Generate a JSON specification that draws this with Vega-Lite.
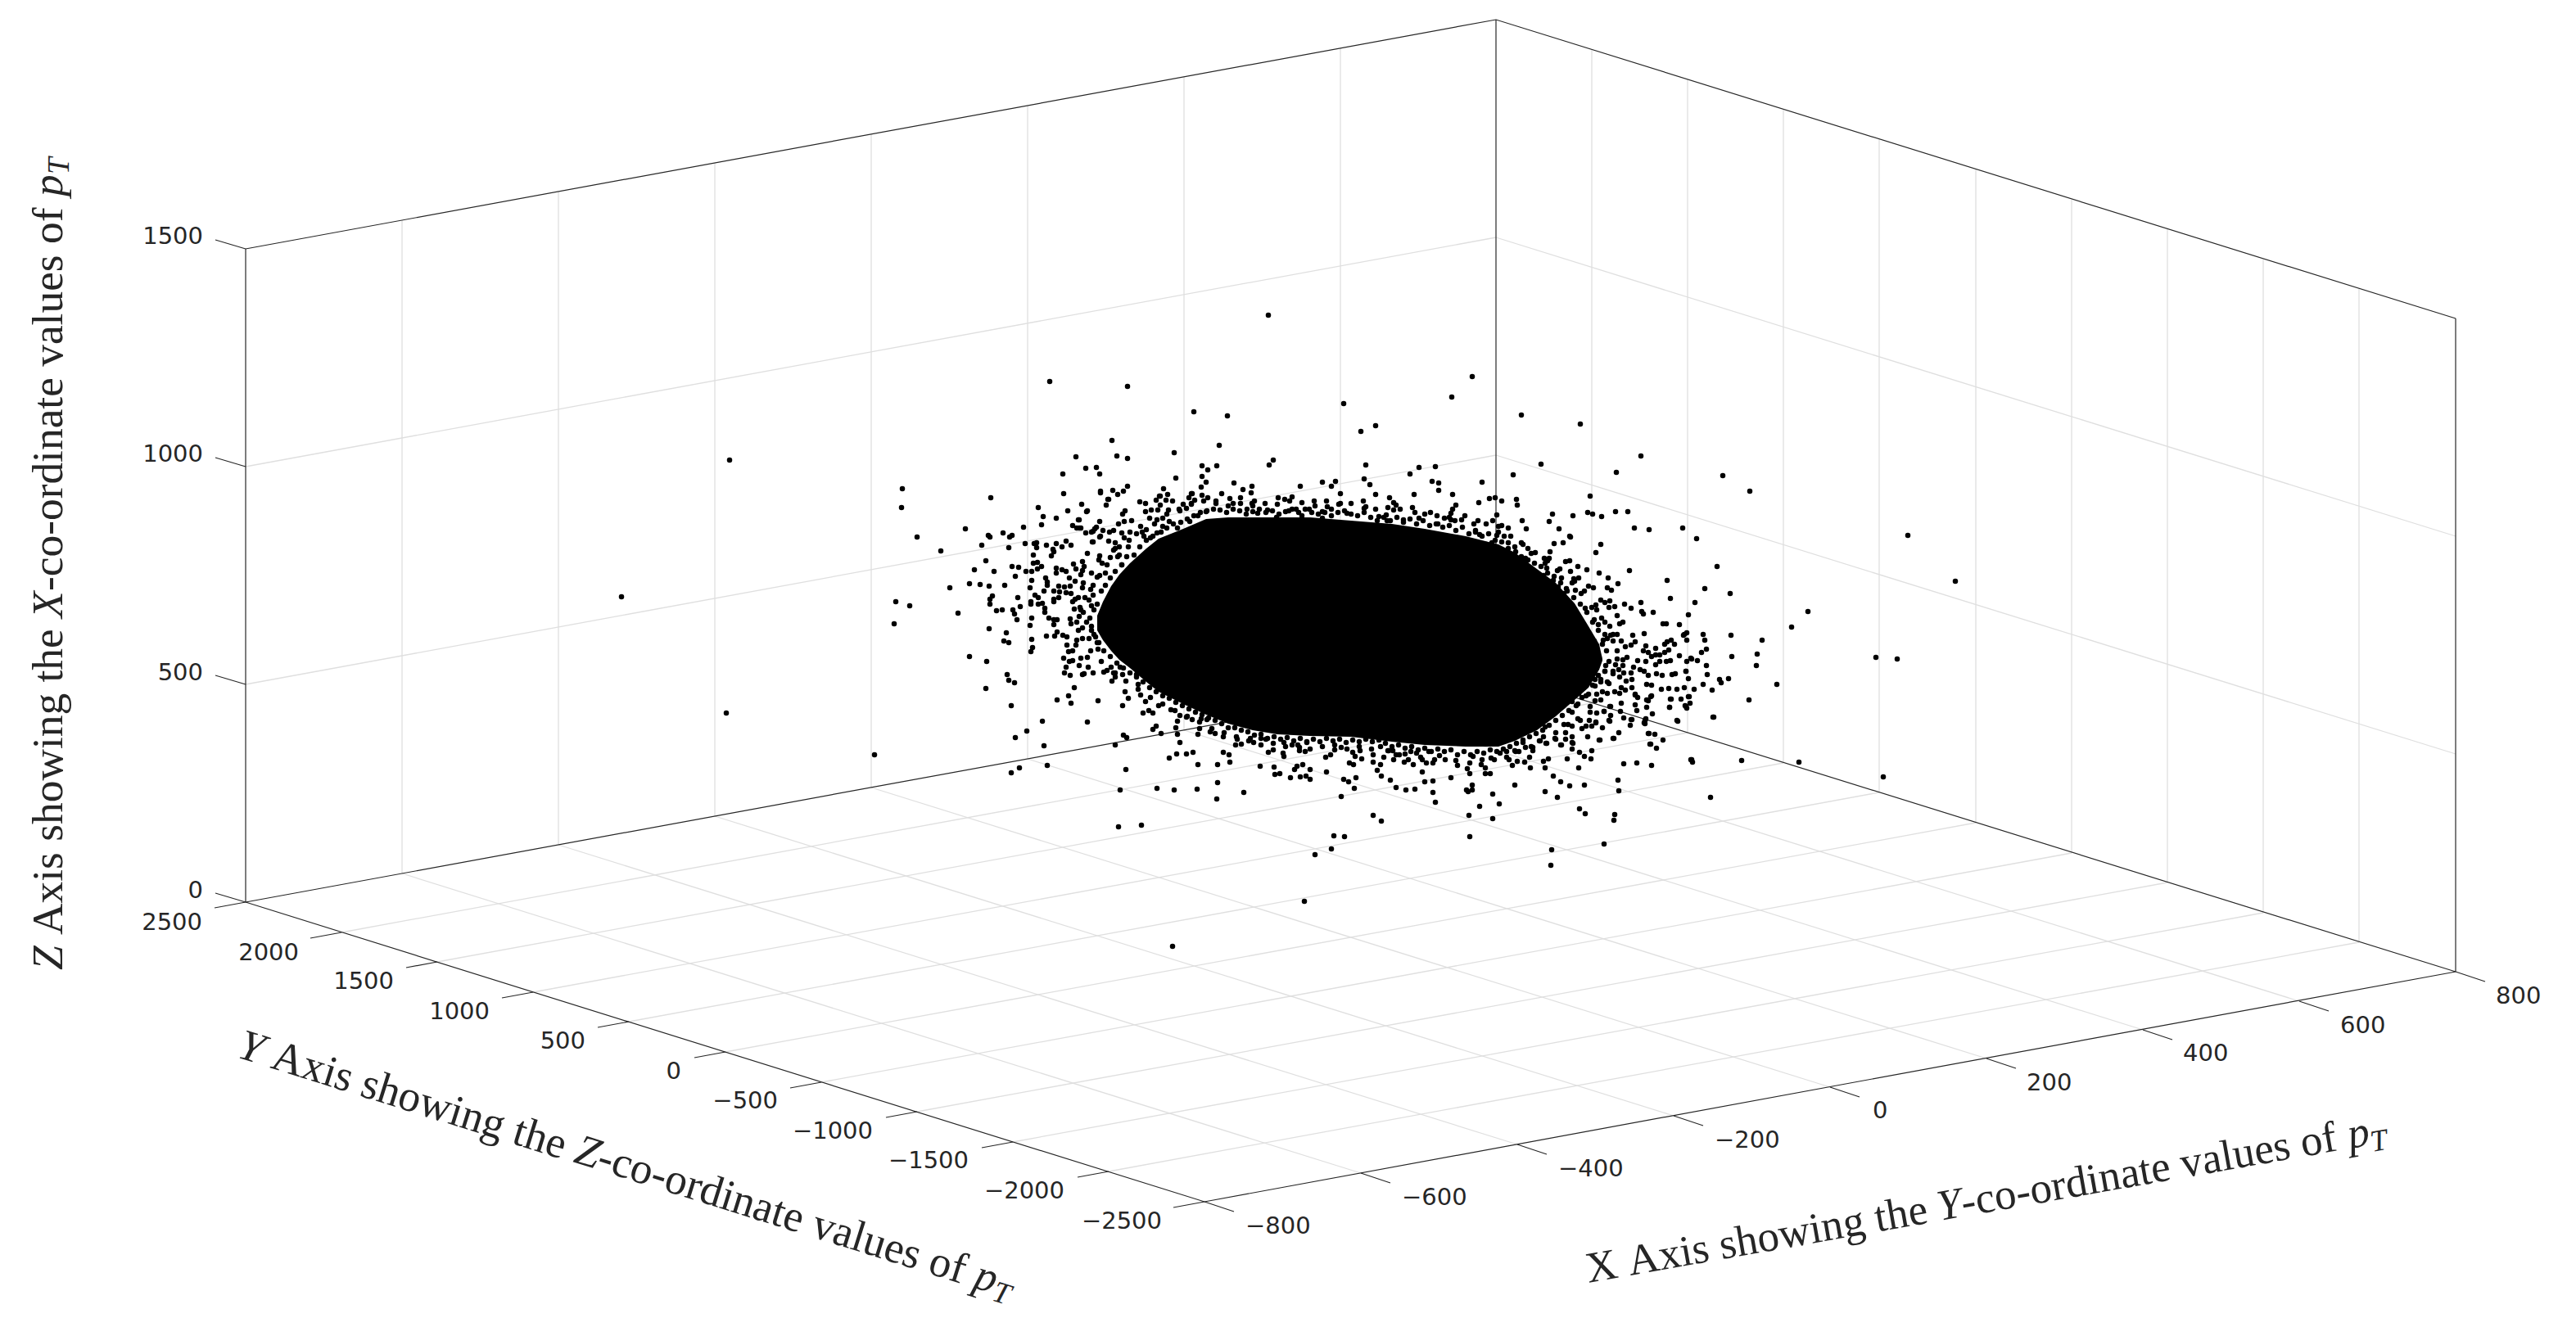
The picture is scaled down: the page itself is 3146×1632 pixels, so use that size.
{
"$schema":"https://vega.github.io/schema/vega-lite/v6.json",
"width":3146,"height":1632,"padding":0,
"autosize":{"type":"fit","contains":"padding"},
"background":"white",
"config":{"view":{"stroke":null}},
"datasets":{
"grid":[
{"l":"a1","x":491,"y":1067},{"l":"a1","x":491,"y":269},{"l":"a2","x":682,"y":1032},{"l":"a2","x":682,"y":234},{"l":"a3","x":873,"y":997},{"l":"a3","x":873,"y":199},{"l":"a4","x":1064,"y":962},{"l":"a4","x":1064,"y":164},{"l":"a5","x":1255,"y":927},{"l":"a5","x":1255,"y":129},{"l":"a6","x":1446,"y":892},{"l":"a6","x":1446,"y":94},{"l":"a7","x":1637,"y":857},{"l":"a7","x":1637,"y":59},
{"l":"b1","x":300,"y":836},{"l":"b1","x":1827,"y":556},{"l":"b2","x":300,"y":570},{"l":"b2","x":1827,"y":290},
{"l":"c1","x":1944,"y":859},{"l":"c1","x":1944,"y":61},{"l":"c2","x":2061,"y":895},{"l":"c2","x":2061,"y":97},{"l":"c3","x":2178,"y":932},{"l":"c3","x":2178,"y":134},{"l":"c4","x":2295,"y":968},{"l":"c4","x":2295,"y":170},{"l":"c5","x":2413,"y":1005},{"l":"c5","x":2413,"y":207},{"l":"c6","x":2530,"y":1042},{"l":"c6","x":2530,"y":244},{"l":"c7","x":2647,"y":1078},{"l":"c7","x":2647,"y":280},{"l":"c8","x":2764,"y":1115},{"l":"c8","x":2764,"y":317},{"l":"c9","x":2881,"y":1151},{"l":"c9","x":2881,"y":353},
{"l":"d1","x":1827,"y":556},{"l":"d1","x":2999,"y":921},{"l":"d2","x":1827,"y":290},{"l":"d2","x":2999,"y":655},
{"l":"e1","x":491,"y":1067},{"l":"e1","x":1662,"y":1433},{"l":"e2","x":682,"y":1032},{"l":"e2","x":1853,"y":1398},{"l":"e3","x":873,"y":997},{"l":"e3","x":2044,"y":1363},{"l":"e4","x":1064,"y":962},{"l":"e4","x":2235,"y":1328},{"l":"e5","x":1255,"y":927},{"l":"e5","x":2426,"y":1293},{"l":"e6","x":1446,"y":892},{"l":"e6","x":2617,"y":1258},{"l":"e7","x":1637,"y":857},{"l":"e7","x":2808,"y":1223},
{"l":"f1","x":417,"y":1139},{"l":"f1","x":1944,"y":859},{"l":"f2","x":534,"y":1175},{"l":"f2","x":2061,"y":895},{"l":"f3","x":651,"y":1212},{"l":"f3","x":2178,"y":932},{"l":"f4","x":768,"y":1248},{"l":"f4","x":2295,"y":968},{"l":"f5","x":886,"y":1285},{"l":"f5","x":2413,"y":1005},{"l":"f6","x":1003,"y":1322},{"l":"f6","x":2530,"y":1042},{"l":"f7","x":1120,"y":1358},{"l":"f7","x":2647,"y":1078},{"l":"f8","x":1237,"y":1395},{"l":"f8","x":2764,"y":1115},{"l":"f9","x":1354,"y":1431},{"l":"f9","x":2881,"y":1151}
],
"box":[
{"l":"base1","x":300,"y":1102},{"l":"base1","x":1471,"y":1468},{"l":"base1","x":2999,"y":1187},
{"l":"base2","x":300,"y":1102},{"l":"base2","x":1827,"y":822},{"l":"base2","x":2999,"y":1187},
{"l":"v1","x":300,"y":1102},{"l":"v1","x":300,"y":304},{"l":"v2","x":1827,"y":822},{"l":"v2","x":1827,"y":24},{"l":"v3","x":2999,"y":1187},{"l":"v3","x":2999,"y":389},
{"l":"top","x":300,"y":304},{"l":"top","x":1827,"y":24},{"l":"top","x":2999,"y":389},
{"l":"tz0","x":300,"y":1102},{"l":"tz0","x":263,"y":1091},{"l":"tz1","x":300,"y":836},{"l":"tz1","x":263,"y":825},{"l":"tz2","x":300,"y":570},{"l":"tz2","x":263,"y":559},{"l":"tz3","x":300,"y":304},{"l":"tz3","x":263,"y":293},
{"l":"ty0","x":300,"y":1102},{"l":"ty0","x":262,"y":1109},{"l":"ty1","x":417,"y":1139},{"l":"ty1","x":379,"y":1146},{"l":"ty2","x":534,"y":1175},{"l":"ty2","x":496,"y":1182},{"l":"ty3","x":651,"y":1212},{"l":"ty3","x":613,"y":1219},{"l":"ty4","x":768,"y":1248},{"l":"ty4","x":730,"y":1255},{"l":"ty5","x":886,"y":1285},{"l":"ty5","x":848,"y":1292},{"l":"ty6","x":1003,"y":1322},{"l":"ty6","x":965,"y":1329},{"l":"ty7","x":1120,"y":1358},{"l":"ty7","x":1082,"y":1365},{"l":"ty8","x":1237,"y":1395},{"l":"ty8","x":1199,"y":1402},{"l":"ty9","x":1354,"y":1431},{"l":"ty9","x":1316,"y":1438},{"l":"ty10","x":1471,"y":1468},{"l":"ty10","x":1433,"y":1475},
{"l":"tx0","x":1471,"y":1468},{"l":"tx0","x":1507,"y":1480},{"l":"tx1","x":1662,"y":1433},{"l":"tx1","x":1698,"y":1445},{"l":"tx2","x":1853,"y":1398},{"l":"tx2","x":1889,"y":1410},{"l":"tx3","x":2044,"y":1363},{"l":"tx3","x":2080,"y":1375},{"l":"tx4","x":2235,"y":1328},{"l":"tx4","x":2271,"y":1340},{"l":"tx5","x":2426,"y":1293},{"l":"tx5","x":2462,"y":1305},{"l":"tx6","x":2617,"y":1258},{"l":"tx6","x":2653,"y":1270},{"l":"tx7","x":2808,"y":1223},{"l":"tx7","x":2844,"y":1235},{"l":"tx8","x":2999,"y":1187},{"l":"tx8","x":3035,"y":1199}
],
"core":[
{"x":1340,"top":752,"bottom":770},{"x":1347,"top":735,"bottom":782},{"x":1357,"top":716,"bottom":795},{"x":1367,"top":702,"bottom":806},{"x":1380,"top":688,"bottom":816},{"x":1400,"top":670,"bottom":833},{"x":1415,"top":658,"bottom":845},{"x":1445,"top":646,"bottom":860},{"x":1473,"top":634,"bottom":873},{"x":1500,"top":632,"bottom":884},{"x":1530,"top":632,"bottom":892},{"x":1560,"top":632,"bottom":897},{"x":1600,"top":632,"bottom":899},{"x":1650,"top":636,"bottom":900},{"x":1700,"top":640,"bottom":906},{"x":1740,"top":646,"bottom":910},{"x":1790,"top":655,"bottom":912},{"x":1830,"top":665,"bottom":912},{"x":1850,"top":675,"bottom":905},{"x":1877,"top":695,"bottom":892},{"x":1900,"top":712,"bottom":875},{"x":1923,"top":737,"bottom":855},{"x":1940,"top":765,"bottom":840},{"x":1953,"top":787,"bottom":818},{"x":1957,"top":805,"bottom":807}
],
"scatter":[
{"x":1336,"y":745},{"x":1340,"y":738},{"x":1345,"y":722},{"x":1350,"y":715},{"x":1356,"y":706},{"x":1362,"y":698},{"x":1370,"y":690},{"x":1376,"y":680},{"x":1385,"y":678},{"x":1392,"y":668},{"x":1400,"y":660},{"x":1408,"y":655},{"x":1418,"y":650},{"x":1425,"y":645},{"x":1433,"y":640},{"x":1442,"y":638},{"x":1450,"y":634},{"x":1458,"y":630},{"x":1466,"y":626},{"x":1474,"y":624},{"x":1482,"y":622},{"x":1490,"y":623},{"x":1498,"y":626},{"x":1506,"y":622},{"x":1514,"y":624},{"x":1522,"y":628},{"x":1530,"y":625},{"x":1538,"y":622},{"x":1546,"y":626},{"x":1554,"y":624},{"x":1562,"y":628},{"x":1570,"y":625},{"x":1578,"y":622},{"x":1586,"y":626},{"x":1594,"y":622},{"x":1602,"y":626},{"x":1610,"y":628},{"x":1618,"y":626},{"x":1626,"y":622},{"x":1634,"y":626},{"x":1642,"y":624},{"x":1650,"y":628},{"x":1658,"y":630},{"x":1666,"y":626},{"x":1674,"y":632},{"x":1682,"y":636},{"x":1690,"y":632},{"x":1698,"y":636},{"x":1706,"y":632},{"x":1714,"y":638},{"x":1722,"y":634},{"x":1730,"y":640},{"x":1738,"y":636},{"x":1746,"y":642},{"x":1754,"y":640},{"x":1762,"y":644},{"x":1770,"y":642},{"x":1778,"y":648},{"x":1786,"y":644},{"x":1794,"y":652},{"x":1802,"y":648},{"x":1810,"y":655},{"x":1818,"y":652},{"x":1826,"y":660},{"x":1834,"y":662},{"x":1842,"y":670},{"x":1850,"y":668},{"x":1858,"y":680},{"x":1866,"y":684},{"x":1874,"y":688},{"x":1882,"y":692},{"x":1890,"y":700},{"x":1898,"y":704},{"x":1906,"y":712},{"x":1914,"y":722},{"x":1922,"y":730},{"x":1930,"y":738},{"x":1938,"y":748},{"x":1945,"y":760},{"x":1952,"y":770},{"x":1958,"y":782},{"x":1962,"y":795},{"x":1965,"y":808},{"x":1960,"y":820},{"x":1955,"y":830},{"x":1948,"y":838},{"x":1940,"y":848},{"x":1932,"y":852},{"x":1925,"y":862},{"x":1916,"y":868},{"x":1908,"y":874},{"x":1900,"y":880},{"x":1892,"y":886},{"x":1884,"y":892},{"x":1876,"y":896},{"x":1868,"y":900},{"x":1860,"y":904},{"x":1852,"y":908},{"x":1844,"y":912},{"x":1836,"y":915},{"x":1828,"y":918},{"x":1820,"y":916},{"x":1812,"y":920},{"x":1804,"y":918},{"x":1796,"y":922},{"x":1788,"y":918},{"x":1780,"y":922},{"x":1772,"y":916},{"x":1764,"y":918},{"x":1756,"y":915},{"x":1748,"y":918},{"x":1740,"y":914},{"x":1732,"y":916},{"x":1724,"y":912},{"x":1716,"y":914},{"x":1708,"y":910},{"x":1700,"y":912},{"x":1692,"y":908},{"x":1684,"y":904},{"x":1676,"y":906},{"x":1668,"y":903},{"x":1660,"y":906},{"x":1652,"y":904},{"x":1644,"y":907},{"x":1636,"y":903},{"x":1628,"y":905},{"x":1620,"y":902},{"x":1612,"y":906},{"x":1604,"y":903},{"x":1596,"y":906},{"x":1588,"y":902},{"x":1580,"y":905},{"x":1572,"y":901},{"x":1564,"y":903},{"x":1556,"y":900},{"x":1548,"y":902},{"x":1540,"y":897},{"x":1532,"y":898},{"x":1524,"y":894},{"x":1516,"y":892},{"x":1508,"y":889},{"x":1500,"y":889},{"x":1492,"y":884},{"x":1484,"y":880},{"x":1476,"y":877},{"x":1468,"y":873},{"x":1460,"y":870},{"x":1452,"y":866},{"x":1444,"y":862},{"x":1436,"y":858},{"x":1428,"y":853},{"x":1420,"y":850},{"x":1412,"y":845},{"x":1404,"y":840},{"x":1396,"y":833},{"x":1388,"y":827},{"x":1380,"y":822},{"x":1372,"y":816},{"x":1364,"y":810},{"x":1356,"y":802},{"x":1348,"y":795},{"x":1342,"y":785},{"x":1336,"y":775},{"x":1333,"y":765},{"x":1331,"y":755},
{"x":1340,"y":705},{"x":1352,"y":690},{"x":1365,"y":680},{"x":1378,"y":668},{"x":1395,"y":650},{"x":1410,"y":640},{"x":1425,"y":628},{"x":1440,"y":622},{"x":1455,"y":615},{"x":1470,"y":612},{"x":1485,"y":615},{"x":1500,"y":618},{"x":1515,"y":608},{"x":1530,"y":618},{"x":1545,"y":615},{"x":1560,"y":616},{"x":1575,"y":612},{"x":1590,"y":614},{"x":1605,"y":612},{"x":1620,"y":612},{"x":1635,"y":616},{"x":1650,"y":615},{"x":1665,"y":612},{"x":1680,"y":622},{"x":1695,"y":620},{"x":1710,"y":622},{"x":1725,"y":620},{"x":1740,"y":628},{"x":1755,"y":630},{"x":1770,"y":632},{"x":1785,"y":635},{"x":1800,"y":640},{"x":1815,"y":640},{"x":1830,"y":650},{"x":1845,"y":655},{"x":1860,"y":665},{"x":1875,"y":675},{"x":1890,"y":685},{"x":1905,"y":695},{"x":1920,"y":712},{"x":1935,"y":722},{"x":1950,"y":745},{"x":1960,"y":760},{"x":1970,"y":775},{"x":1975,"y":795},{"x":1970,"y":820},{"x":1965,"y":835},{"x":1955,"y":855},{"x":1942,"y":870},{"x":1930,"y":880},{"x":1915,"y":885},{"x":1900,"y":895},{"x":1885,"y":900},{"x":1870,"y":912},{"x":1855,"y":918},{"x":1840,"y":925},{"x":1825,"y":928},{"x":1810,"y":928},{"x":1795,"y":932},{"x":1780,"y":935},{"x":1765,"y":928},{"x":1750,"y":932},{"x":1735,"y":925},{"x":1720,"y":928},{"x":1705,"y":922},{"x":1690,"y":925},{"x":1675,"y":915},{"x":1660,"y":912},{"x":1645,"y":915},{"x":1630,"y":910},{"x":1615,"y":912},{"x":1600,"y":915},{"x":1585,"y":910},{"x":1570,"y":912},{"x":1555,"y":908},{"x":1540,"y":910},{"x":1525,"y":905},{"x":1510,"y":900},{"x":1495,"y":895},{"x":1480,"y":890},{"x":1465,"y":882},{"x":1450,"y":875},{"x":1435,"y":868},{"x":1420,"y":860},{"x":1405,"y":852},{"x":1390,"y":842},{"x":1375,"y":832},{"x":1360,"y":822},{"x":1345,"y":808},{"x":1332,"y":795},{"x":1322,"y":780},{"x":1320,"y":745},{"x":1325,"y":730},{"x":1335,"y":715},
{"x":759,"y":729},{"x":891,"y":562},{"x":887,"y":871},{"x":1102,"y":597},{"x":1101,"y":620},{"x":1120,"y":656},{"x":1179,"y":646},{"x":1149,"y":673},{"x":1199,"y":666},{"x":1190,"y":696},{"x":1184,"y":713},{"x":1197,"y":714},{"x":1160,"y":718},{"x":1094,"y":735},{"x":1111,"y":740},{"x":1170,"y":749},{"x":1092,"y":762},{"x":1184,"y":802},{"x":1068,"y":922},
{"x":1549,"y":385},{"x":1282,"y":466},{"x":1377,"y":472},{"x":1458,"y":503},{"x":1499,"y":508},{"x":1358,"y":538},{"x":1489,"y":544},{"x":1434,"y":553},{"x":1314,"y":558},{"x":1364,"y":557},{"x":1377,"y":560},{"x":1555,"y":562},{"x":1550,"y":568},{"x":1468,"y":569},{"x":1475,"y":574},{"x":1486,"y":569},{"x":1326,"y":572},{"x":1339,"y":571},{"x":1343,"y":579},{"x":1298,"y":579},{"x":1468,"y":582},{"x":1436,"y":584},{"x":1473,"y":589},{"x":1507,"y":590},{"x":1529,"y":594},{"x":1518,"y":598},{"x":1588,"y":594},{"x":1377,"y":594},{"x":1344,"y":600},{"x":1359,"y":599},{"x":1365,"y":604},{"x":1372,"y":600},{"x":1299,"y":603},{"x":1467,"y":595},{"x":1468,"y":605},{"x":1421,"y":597},{"x":1426,"y":604},{"x":1416,"y":606},{"x":1455,"y":603},{"x":1452,"y":608},{"x":1475,"y":608},{"x":1492,"y":603},{"x":1528,"y":602},{"x":1561,"y":608},{"x":1569,"y":610},{"x":1578,"y":607},{"x":1502,"y":609},{"x":1485,"y":612},{"x":1532,"y":612},{"x":1529,"y":615},{"x":1354,"y":610},{"x":1351,"y":617},{"x":1321,"y":616},{"x":1304,"y":624},{"x":1327,"y":625},{"x":1268,"y":620},{"x":1210,"y":608},{"x":1274,"y":631},{"x":1290,"y":633},{"x":1272,"y":641},{"x":1318,"y":635},{"x":1343,"y":637},{"x":1310,"y":642},{"x":1318,"y":645},{"x":1339,"y":644},{"x":1335,"y":649},{"x":1326,"y":651},{"x":1250,"y":644},{"x":1225,"y":651},{"x":1236,"y":654},{"x":1233,"y":656},{"x":1207,"y":654},{"x":1209,"y":656},{"x":1232,"y":669},{"x":1252,"y":664},{"x":1263,"y":664},{"x":1266,"y":669},{"x":1266,"y":663},{"x":1278,"y":666},{"x":1290,"y":664},{"x":1302,"y":661},{"x":1297,"y":668},{"x":1308,"y":666},{"x":1286,"y":671},{"x":1287,"y":674},{"x":1284,"y":679},{"x":1262,"y":678},{"x":1204,"y":685},{"x":1214,"y":698},{"x":1236,"y":692},{"x":1244,"y":693},{"x":1240,"y":704},{"x":1253,"y":698},{"x":1260,"y":698},{"x":1262,"y":688},{"x":1267,"y":687},{"x":1272,"y":692},{"x":1267,"y":695},{"x":1208,"y":716},{"x":1227,"y":715},{"x":1260,"y":709},{"x":1258,"y":718},{"x":1277,"y":706},{"x":1279,"y":711},{"x":1275,"y":722},{"x":1279,"y":715},{"x":1287,"y":722},{"x":1293,"y":716},{"x":1294,"y":723},{"x":1302,"y":724},{"x":1307,"y":716},{"x":1300,"y":717},{"x":1290,"y":694},{"x":1290,"y":700},{"x":1297,"y":696},{"x":1302,"y":698},{"x":1306,"y":706},{"x":1313,"y":710},{"x":1311,"y":689},{"x":1314,"y":695},{"x":1322,"y":686},{"x":1324,"y":692},{"x":1320,"y":702},{"x":1322,"y":697},{"x":1328,"y":676},{"x":1343,"y":679},{"x":1342,"y":684},{"x":1346,"y":688},{"x":1356,"y":681},{"x":1335,"y":662},{"x":1344,"y":655},{"x":1354,"y":661},{"x":1362,"y":663},{"x":1360,"y":672},{"x":1367,"y":668},{"x":1362,"y":670},{"x":1367,"y":678},
{"x":1328,"y":624},{"x":1344,"y":602},{"x":1353,"y":610},{"x":1317,"y":635},{"x":1315,"y":645},{"x":1320,"y":645},{"x":1333,"y":650},{"x":1337,"y":646},{"x":1366,"y":640},{"x":1373,"y":637},{"x":1382,"y":636},{"x":1374,"y":624},{"x":1371,"y":628},{"x":1392,"y":613},{"x":1399,"y":615},{"x":1399,"y":625},{"x":1406,"y":623},{"x":1414,"y":623},{"x":1417,"y":617},{"x":1412,"y":611},{"x":1417,"y":606},{"x":1424,"y":611},{"x":1432,"y":612},{"x":1427,"y":623},{"x":1441,"y":624},{"x":1449,"y":621},{"x":1445,"y":616},{"x":1455,"y":616},{"x":1459,"y":611},{"x":1456,"y":603},{"x":1404,"y":633},{"x":1347,"y":648},{"x":1355,"y":650},{"x":1360,"y":648},{"x":1343,"y":656},{"x":1334,"y":662},{"x":1373,"y":657},{"x":1370,"y":651},{"x":1380,"y":650},{"x":1379,"y":660},{"x":1393,"y":643},{"x":1388,"y":652},{"x":1400,"y":647},{"x":1397,"y":655},{"x":1405,"y":657},{"x":1413,"y":651},{"x":1413,"y":635},{"x":1420,"y":633},{"x":1428,"y":637},{"x":1438,"y":645},{"x":1420,"y":643},{"x":1453,"y":637},{"x":1463,"y":630},{"x":1473,"y":625},
{"x":1212,"y":728},{"x":1209,"y":732},{"x":1209,"y":738},{"x":1243,"y":730},{"x":1246,"y":741},{"x":1264,"y":727},{"x":1268,"y":730},{"x":1259,"y":735},{"x":1259,"y":738},{"x":1287,"y":732},{"x":1287,"y":735},{"x":1293,"y":730},{"x":1268,"y":738},{"x":1273,"y":737},{"x":1276,"y":743},{"x":1276,"y":748},{"x":1217,"y":746},{"x":1224,"y":745},{"x":1237,"y":745},{"x":1239,"y":750},{"x":1242,"y":757},{"x":1260,"y":755},{"x":1258,"y":764},{"x":1281,"y":755},{"x":1287,"y":757},{"x":1291,"y":757},{"x":1287,"y":763},{"x":1208,"y":768},{"x":1229,"y":773},{"x":1226,"y":783},{"x":1232,"y":785},{"x":1260,"y":781},{"x":1261,"y":791},{"x":1259,"y":796},{"x":1278,"y":777},{"x":1291,"y":772},{"x":1288,"y":777},{"x":1298,"y":776},{"x":1303,"y":778},{"x":1315,"y":782},{"x":1314,"y":788},{"x":1330,"y":780},{"x":1303,"y":788},{"x":1305,"y":796},{"x":1310,"y":795},{"x":1205,"y":808},{"x":1230,"y":824},{"x":1232,"y":831},{"x":1239,"y":834},{"x":1204,"y":841},{"x":1235,"y":862},{"x":1299,"y":804},{"x":1306,"y":808},{"x":1310,"y":807},{"x":1320,"y":804},{"x":1328,"y":803},{"x":1302,"y":815},{"x":1318,"y":813},{"x":1329,"y":815},{"x":1300,"y":822},{"x":1307,"y":825},{"x":1322,"y":824},{"x":1324,"y":823},{"x":1335,"y":822},{"x":1348,"y":821},{"x":1352,"y":819},{"x":1357,"y":815},{"x":1368,"y":815},{"x":1362,"y":822},{"x":1362,"y":827},{"x":1358,"y":832},{"x":1371,"y":824},{"x":1388,"y":824},{"x":1394,"y":821},{"x":1390,"y":836},{"x":1312,"y":840},{"x":1305,"y":850},{"x":1291,"y":855},{"x":1308,"y":859},{"x":1341,"y":856},{"x":1374,"y":845},{"x":1378,"y":853},{"x":1393,"y":849},{"x":1399,"y":857},{"x":1371,"y":862},{"x":1415,"y":862},{"x":1430,"y":867},{"x":1396,"y":871},{"x":1403,"y":868},{"x":1408,"y":871},{"x":1441,"y":874},
{"x":1310,"y":735},{"x":1313,"y":732},{"x":1317,"y":730},{"x":1308,"y":725},{"x":1312,"y":744},{"x":1319,"y":742},{"x":1323,"y":748},{"x":1318,"y":753},{"x":1307,"y":756},{"x":1308,"y":762},{"x":1315,"y":760},{"x":1317,"y":770},{"x":1322,"y":767},{"x":1327,"y":760},{"x":1333,"y":770},{"x":1338,"y":778},{"x":1340,"y":785},{"x":1341,"y":793},{"x":1332,"y":720},{"x":1335,"y":727},{"x":1330,"y":733},{"x":1333,"y":740},{"x":1322,"y":718},{"x":1323,"y":712},{"x":1333,"y":700},{"x":1343,"y":703},{"x":1350,"y":700},{"x":1370,"y":690},
{"x":1487,"y":956},{"x":1486,"y":976},{"x":1519,"y":968},{"x":1462,"y":964},{"x":1434,"y":965},{"x":1413,"y":963},{"x":1368,"y":965},{"x":1366,"y":1010},{"x":1394,"y":1008},{"x":1432,"y":1156},{"x":1593,"y":1101},{"x":1606,"y":1044},{"x":1626,"y":1037},{"x":1629,"y":1021},{"x":1642,"y":1022},{"x":1677,"y":996},{"x":1687,"y":1003},{"x":1638,"y":973},{"x":1654,"y":963},{"x":1656,"y":950},{"x":1647,"y":955},{"x":1641,"y":952},{"x":1620,"y":943},{"x":1600,"y":952},{"x":1595,"y":948},{"x":1588,"y":949},{"x":1576,"y":950},{"x":1563,"y":945},{"x":1557,"y":946},{"x":1556,"y":937},{"x":1539,"y":936},{"x":1502,"y":931},{"x":1501,"y":922},{"x":1494,"y":919},{"x":1487,"y":934},{"x":1463,"y":934},{"x":1457,"y":919},{"x":1449,"y":921},{"x":1437,"y":921},{"x":1428,"y":926},{"x":1375,"y":940},{"x":1279,"y":935},{"x":1245,"y":938},{"x":1235,"y":944},{"x":1275,"y":911},{"x":1362,"y":910},{"x":1376,"y":901},{"x":1372,"y":898},{"x":1418,"y":896},{"x":1408,"y":891},{"x":1412,"y":887},{"x":1436,"y":889},{"x":1438,"y":897},{"x":1441,"y":907},{"x":1240,"y":901},{"x":1254,"y":893},{"x":1273,"y":881},{"x":1328,"y":882},
{"x":1449,"y":876},{"x":1456,"y":879},{"x":1438,"y":881},{"x":1467,"y":878},{"x":1474,"y":879},{"x":1465,"y":890},{"x":1463,"y":897},{"x":1478,"y":894},{"x":1484,"y":896},{"x":1494,"y":900},{"x":1511,"y":903},{"x":1516,"y":909},{"x":1509,"y":910},{"x":1531,"y":907},{"x":1527,"y":902},{"x":1540,"y":902},{"x":1546,"y":903},{"x":1568,"y":907},{"x":1578,"y":910},{"x":1587,"y":913},{"x":1596,"y":907},{"x":1587,"y":917},{"x":1594,"y":918},{"x":1549,"y":919},{"x":1555,"y":916},{"x":1567,"y":920},{"x":1568,"y":924},{"x":1584,"y":936},{"x":1591,"y":934},{"x":1581,"y":940},{"x":1600,"y":940},{"x":1619,"y":925},{"x":1625,"y":922},{"x":1630,"y":916},{"x":1638,"y":913},{"x":1652,"y":919},{"x":1661,"y":917},{"x":1655,"y":924},{"x":1663,"y":927},{"x":1648,"y":932},{"x":1653,"y":934},{"x":1677,"y":922},{"x":1677,"y":931},{"x":1686,"y":934},{"x":1682,"y":941},{"x":1687,"y":948},{"x":1698,"y":953},{"x":1686,"y":912},{"x":1695,"y":917},
{"x":1894,"y":1057},{"x":1895,"y":1038},{"x":1959,"y":1031},{"x":1795,"y":1022},{"x":1794,"y":996},{"x":1823,"y":1000},{"x":1807,"y":985},{"x":1831,"y":982},{"x":1753,"y":980},{"x":1750,"y":968},{"x":1717,"y":965},{"x":1728,"y":964},{"x":1705,"y":962},{"x":1740,"y":955},{"x":1750,"y":954},{"x":1772,"y":950},{"x":1791,"y":965},{"x":1793,"y":967},{"x":1798,"y":965},{"x":1798,"y":959},{"x":1823,"y":970},{"x":1850,"y":959},{"x":1887,"y":967},{"x":1902,"y":974},{"x":1897,"y":948},{"x":1906,"y":955},{"x":1917,"y":960},{"x":1935,"y":959},{"x":1929,"y":988},{"x":1936,"y":994},{"x":1972,"y":995},{"x":1971,"y":1002},{"x":1977,"y":966},{"x":1976,"y":953},{"x":2089,"y":974},{"x":1983,"y":933},{"x":1999,"y":932},{"x":2017,"y":935},{"x":2066,"y":928},{"x":2067,"y":931},{"x":2127,"y":929},{"x":2197,"y":931},
{"x":1702,"y":928},{"x":1715,"y":931},{"x":1709,"y":922},{"x":1716,"y":921},{"x":1723,"y":918},{"x":1730,"y":920},{"x":1696,"y":917},{"x":1701,"y":917},{"x":1726,"y":934},{"x":1737,"y":943},{"x":1737,"y":928},{"x":1742,"y":932},{"x":1752,"y":928},{"x":1758,"y":923},{"x":1745,"y":918},{"x":1778,"y":929},{"x":1799,"y":924},{"x":1809,"y":934},{"x":1792,"y":939},{"x":1795,"y":945},{"x":1814,"y":938},{"x":1814,"y":945},{"x":1820,"y":945},{"x":1821,"y":926},{"x":1832,"y":920},{"x":1840,"y":918},{"x":1847,"y":935},{"x":1843,"y":928},{"x":1853,"y":930},{"x":1851,"y":918},{"x":1862,"y":931},{"x":1868,"y":925},{"x":1869,"y":938},{"x":1887,"y":938},{"x":1885,"y":930},{"x":1891,"y":927},{"x":1914,"y":927},{"x":1928,"y":938},{"x":1935,"y":924},{"x":1943,"y":927},{"x":1929,"y":919},{"x":1944,"y":917},{"x":1920,"y":915},{"x":1921,"y":908},{"x":1906,"y":910},{"x":1899,"y":902},{"x":1912,"y":903},{"x":1872,"y":913},{"x":1881,"y":905},{"x":1889,"y":908},
{"x":1932,"y":890},{"x":1937,"y":887},{"x":1941,"y":880},{"x":1949,"y":883},{"x":1944,"y":887},{"x":1957,"y":889},{"x":1939,"y":900},{"x":1954,"y":904},{"x":1970,"y":902},{"x":1977,"y":895},{"x":1983,"y":877},{"x":1965,"y":880},{"x":1967,"y":874},{"x":1991,"y":886},{"x":1992,"y":879},{"x":2009,"y":880},{"x":2009,"y":884},{"x":2013,"y":896},{"x":2021,"y":897},{"x":2031,"y":904},{"x":2016,"y":909},{"x":2023,"y":914},{"x":2049,"y":881},{"x":2018,"y":872},{"x":1999,"y":868},{"x":1979,"y":869},{"x":1950,"y":871},{"x":1959,"y":869},{"x":1966,"y":863},{"x":1942,"y":863},{"x":1997,"y":861},{"x":2011,"y":864},{"x":1980,"y":859},{"x":2039,"y":864},{"x":2059,"y":863},{"x":2064,"y":859},{"x":2093,"y":876},{"x":2136,"y":855},{"x":2040,"y":854},{"x":2053,"y":854},{"x":2062,"y":851},{"x":2011,"y":855},{"x":2016,"y":851},{"x":2000,"y":852},{"x":1997,"y":848},
{"x":1996,"y":645},{"x":2014,"y":647},{"x":2055,"y":645},{"x":2072,"y":658},{"x":2097,"y":692},{"x":1955,"y":665},{"x":1949,"y":675},{"x":1917,"y":655},{"x":1904,"y":646},{"x":1864,"y":646},{"x":1898,"y":664},{"x":1909,"y":663},{"x":1858,"y":663},{"x":1851,"y":674},{"x":1866,"y":670},{"x":1870,"y":676},{"x":1893,"y":674},{"x":1886,"y":682},{"x":1892,"y":682},{"x":1887,"y":688},{"x":1889,"y":694},{"x":1912,"y":686},{"x":1917,"y":685},{"x":1927,"y":692},{"x":1938,"y":696},{"x":1902,"y":697},{"x":1918,"y":698},{"x":1953,"y":700},{"x":1990,"y":697},{"x":1964,"y":706},{"x":1976,"y":713},{"x":2036,"y":709},{"x":2082,"y":719},{"x":2040,"y":731},{"x":2070,"y":736},{"x":2062,"y":751},{"x":2051,"y":763},{"x":2008,"y":774},{"x":1994,"y":776},{"x":2031,"y":762},{"x":2035,"y":762},{"x":2019,"y":748},{"x":2004,"y":736},{"x":1992,"y":743},{"x":1984,"y":738},{"x":1972,"y":741},{"x":2005,"y":747},{"x":2007,"y":750},{"x":1975,"y":752},{"x":1982,"y":760},{"x":1978,"y":762},{"x":1966,"y":765},{"x":1955,"y":733},{"x":1960,"y":736},{"x":1966,"y":734},{"x":1965,"y":742},{"x":1949,"y":739},{"x":1944,"y":742},{"x":1936,"y":743},{"x":1940,"y":716},{"x":1946,"y":718},{"x":1963,"y":718},{"x":1968,"y":721},{"x":1931,"y":725},{"x":1924,"y":721},{"x":1922,"y":707},{"x":1928,"y":706},{"x":1923,"y":710},{"x":1907,"y":706},{"x":1913,"y":719},{"x":1947,"y":757},{"x":1956,"y":755},{"x":1952,"y":763},
{"x":1960,"y":775},{"x":1967,"y":776},{"x":1975,"y":775},{"x":1980,"y":783},{"x":1970,"y":783},{"x":1963,"y":780},{"x":1997,"y":784},{"x":1992,"y":788},{"x":1985,"y":790},{"x":2010,"y":789},{"x":2022,"y":792},{"x":2045,"y":787},{"x":2041,"y":782},{"x":2036,"y":784},{"x":2033,"y":787},{"x":2060,"y":773},{"x":2057,"y":775},{"x":2060,"y":782},{"x":2080,"y":775},{"x":2082,"y":782},{"x":2084,"y":793},{"x":2078,"y":797},{"x":2051,"y":801},{"x":2038,"y":794},{"x":2033,"y":797},{"x":2022,"y":800},{"x":2027,"y":800},{"x":2007,"y":795},{"x":2013,"y":797},{"x":2010,"y":808},{"x":2017,"y":802},{"x":2022,"y":812},{"x":2027,"y":808},{"x":2035,"y":808},{"x":2040,"y":807},{"x":2000,"y":807},{"x":1995,"y":815},{"x":1987,"y":803},{"x":1982,"y":806},{"x":1975,"y":805},{"x":1973,"y":812},{"x":1982,"y":813},{"x":1977,"y":818},{"x":1983,"y":822},{"x":1992,"y":822},{"x":2003,"y":818},{"x":2008,"y":820},{"x":2013,"y":825},{"x":2023,"y":823},{"x":2030,"y":825},{"x":2042,"y":824},{"x":2046,"y":823},{"x":2059,"y":820},{"x":2060,"y":808},{"x":2065,"y":804},{"x":2073,"y":807},{"x":2084,"y":813},{"x":2085,"y":824},{"x":2062,"y":829},{"x":2080,"y":836},{"x":2091,"y":843},{"x":2069,"y":842},{"x":2057,"y":840},{"x":2048,"y":842},{"x":2038,"y":841},{"x":2029,"y":842},{"x":2017,"y":837},{"x":2011,"y":836},{"x":1993,"y":830},{"x":1986,"y":832},{"x":1993,"y":840},{"x":1997,"y":849},{"x":2017,"y":850},{"x":2013,"y":856},{"x":2041,"y":854},{"x":2058,"y":862},{"x":2039,"y":864},{"x":1993,"y":879},{"x":2008,"y":883},{"x":2010,"y":878},{"x":2048,"y":880},{"x":2014,"y":896},{"x":2015,"y":909},
{"x":1963,"y":833},{"x":1955,"y":833},{"x":1948,"y":830},{"x":1945,"y":837},{"x":1952,"y":825},{"x":1960,"y":820},{"x":1970,"y":823},{"x":1978,"y":827},{"x":1961,"y":813},{"x":1950,"y":848},{"x":1957,"y":845},{"x":1963,"y":847},{"x":1972,"y":845},{"x":1978,"y":847},{"x":1980,"y":840},{"x":1985,"y":843},{"x":1967,"y":863},{"x":1959,"y":869},{"x":1948,"y":856},{"x":1966,"y":881},{"x":1949,"y":882},{"x":1953,"y":904},{"x":1971,"y":902},{"x":1957,"y":787},{"x":1950,"y":797},{"x":1953,"y":803},{"x":1947,"y":783},{"x":1928,"y":847},{"x":1937,"y":850},{"x":1920,"y":857},{"x":1927,"y":860},{"x":1920,"y":870},{"x":1927,"y":878},{"x":1920,"y":887},{"x":1910,"y":885},{"x":1887,"y":888},{"x":1900,"y":903},{"x":1912,"y":895},{"x":1920,"y":900},{"x":1920,"y":907},{"x":1907,"y":910},{"x":1880,"y":905},{"x":1860,"y":907},{"x":1850,"y":917},{"x":1872,"y":917},{"x":1888,"y":908},{"x":1863,"y":913},
{"x":1842,"y":645},{"x":1830,"y":643},{"x":1837,"y":655},{"x":1828,"y":654},{"x":1815,"y":665},{"x":1822,"y":663},{"x":1807,"y":653},{"x":1802,"y":650},{"x":1842,"y":663},{"x":1852,"y":687},{"x":1863,"y":682},{"x":1867,"y":695},{"x":1872,"y":700},{"x":1885,"y":703},{"x":1897,"y":709},{"x":1888,"y":710},{"x":1903,"y":717},{"x":1910,"y":725},
{"x":1641,"y":493},{"x":1680,"y":520},{"x":1662,"y":527},{"x":1773,"y":485},{"x":1798,"y":460},{"x":1858,"y":507},{"x":1930,"y":518},{"x":2004,"y":557},{"x":1882,"y":567},{"x":1974,"y":577},{"x":1848,"y":580},{"x":1668,"y":568},{"x":1733,"y":571},{"x":1753,"y":570},{"x":1722,"y":579},{"x":1666,"y":585},{"x":1673,"y":592},{"x":1749,"y":588},{"x":1757,"y":590},{"x":1810,"y":589},{"x":1631,"y":588},{"x":1615,"y":589},{"x":1626,"y":594},{"x":1757,"y":599},{"x":1727,"y":604},{"x":1774,"y":604},{"x":1680,"y":604},{"x":1637,"y":603},{"x":1697,"y":608},{"x":1942,"y":606},{"x":1819,"y":609},{"x":1826,"y":608},{"x":1834,"y":612},{"x":1806,"y":614},{"x":1852,"y":610},{"x":1853,"y":617},{"x":1637,"y":615},{"x":1702,"y":614},{"x":1705,"y":617},{"x":1778,"y":617},{"x":1668,"y":619},{"x":1666,"y":621},{"x":1606,"y":618},{"x":1621,"y":619},{"x":1583,"y":622},{"x":1574,"y":624},{"x":1599,"y":622},{"x":1615,"y":625},{"x":1702,"y":623},{"x":1728,"y":626},{"x":1747,"y":626},{"x":1774,"y":622},{"x":1772,"y":627},{"x":1789,"y":630},{"x":1828,"y":629},{"x":1896,"y":628},{"x":1921,"y":630},{"x":1939,"y":626},{"x":1945,"y":628},{"x":1956,"y":631},{"x":1973,"y":625},{"x":1988,"y":625},{"x":1693,"y":629},{"x":1684,"y":631},{"x":1733,"y":633},{"x":1764,"y":633},{"x":1772,"y":635},{"x":1777,"y":636},{"x":1805,"y":636},{"x":1823,"y":636},{"x":1859,"y":636},{"x":1892,"y":637},{"x":1714,"y":635},{"x":1694,"y":636},{"x":1756,"y":640},{"x":1834,"y":642},{"x":1918,"y":656},
{"x":1645,"y":627},{"x":1626,"y":630},{"x":1615,"y":633},{"x":1590,"y":630},{"x":1559,"y":632},{"x":1548,"y":623},{"x":1536,"y":627},{"x":1523,"y":622},{"x":1515,"y":615},{"x":1506,"y":615},
{"x":2104,"y":581},{"x":2137,"y":600},{"x":2330,"y":654},{"x":2388,"y":710},{"x":2113,"y":725},{"x":2208,"y":747},{"x":2188,"y":766},{"x":2056,"y":776},{"x":2114,"y":776},{"x":2152,"y":782},{"x":2146,"y":799},{"x":2115,"y":802},{"x":2291,"y":803},{"x":2317,"y":805},{"x":2066,"y":805},{"x":2145,"y":813},{"x":2059,"y":820},{"x":2100,"y":830},{"x":2102,"y":834},{"x":2111,"y":829},{"x":2170,"y":836},{"x":2063,"y":851},{"x":2060,"y":865},{"x":2092,"y":876},{"x":2065,"y":928},{"x":2300,"y":949}
],
"ticks":[
{"t":"1500","x":248,"y":289},{"t":"1000","x":248,"y":555},{"t":"500","x":248,"y":822},{"t":"0","x":248,"y":1088},
{"t":"2500","x":247,"y":1127},{"t":"2000","x":365,"y":1164},{"t":"1500","x":481,"y":1199},{"t":"1000","x":598,"y":1236},{"t":"500","x":715,"y":1272},{"t":"0","x":832,"y":1309},{"t":"−500","x":950,"y":1345},{"t":"−1000","x":1066,"y":1382},{"t":"−1500","x":1183,"y":1418},{"t":"−2000","x":1300,"y":1455},{"t":"−2500","x":1419,"y":1492}
],
"xticks":[
{"t":"−800","x":1521,"y":1498},{"t":"−600","x":1712,"y":1463},{"t":"−400","x":1903,"y":1428},{"t":"−200","x":2094,"y":1393},{"t":"0","x":2287,"y":1357},{"t":"200","x":2475,"y":1323},{"t":"400","x":2666,"y":1287},{"t":"600","x":2858,"y":1253},{"t":"800","x":3048,"y":1217}
]
},
"layer":[
{"data":{"name":"grid"},"mark":{"type":"line","color":"#dfdfdf","strokeWidth":1.3},
"encoding":{"x":{"field":"x","type":"quantitative","scale":{"domain":[0,3146],"nice":false},"axis":null},"y":{"field":"y","type":"quantitative","scale":{"domain":[1632,0],"nice":false},"axis":null},"detail":{"field":"l"}}},
{"data":{"name":"box"},"mark":{"type":"line","color":"#262626","strokeWidth":1.2},
"encoding":{"x":{"field":"x","type":"quantitative"},"y":{"field":"y","type":"quantitative"},"detail":{"field":"l"}}},
{"data":{"name":"core"},"mark":{"type":"area","color":"black"},
"encoding":{"x":{"field":"x","type":"quantitative"},"y":{"field":"top","type":"quantitative"},"y2":{"field":"bottom"}}},
{"data":{"name":"scatter"},"mark":{"type":"point","shape":"circle","filled":true,"color":"black","opacity":1,"size":42},
"encoding":{"x":{"field":"x","type":"quantitative"},"y":{"field":"y","type":"quantitative"}}},
{"data":{"name":"ticks"},"mark":{"type":"text","font":"DejaVu Sans","fontSize":29,"color":"#262626","align":"right","baseline":"middle"},
"encoding":{"x":{"field":"x","type":"quantitative"},"y":{"field":"y","type":"quantitative"},"text":{"field":"t"}}},
{"data":{"name":"xticks"},"mark":{"type":"text","font":"DejaVu Sans","fontSize":29,"color":"#262626","align":"left","baseline":"middle"},
"encoding":{"x":{"field":"x","type":"quantitative"},"y":{"field":"y","type":"quantitative"},"text":{"field":"t"}}},
{"data":{"values":[{"t":"Axis showing the","x":76,"y":1142},{"t":"-co-ordinate values of","x":76,"y":722}]},"mark":{"type":"text","font":"Liberation Serif","fontSize":53.4,"color":"#262626","align":"left","baseline":"alphabetic","angle":270},
"encoding":{"x":{"field":"x","type":"quantitative"},"y":{"field":"y","type":"quantitative"},"text":{"field":"t"}}},
{"data":{"values":[{"t":"Z","x":76,"y":1185},{"t":"X","x":76,"y":755},{"t":"p","x":76,"y":240}]},"mark":{"type":"text","font":"Liberation Serif","fontStyle":"italic","fontSize":53.4,"color":"#262626","align":"left","baseline":"alphabetic","angle":270},
"encoding":{"x":{"field":"x","type":"quantitative"},"y":{"field":"y","type":"quantitative"},"text":{"field":"t"}}},
{"data":{"values":[{"t":"T","x":84,"y":213}]},"mark":{"type":"text","font":"Liberation Serif","fontStyle":"italic","fontSize":37,"color":"#262626","align":"left","baseline":"alphabetic","angle":270},
"encoding":{"x":{"field":"x","type":"quantitative"},"y":{"field":"y","type":"quantitative"},"text":{"field":"t"}}},
{"data":{"values":[{"t":"Axis showing the","x":329,"y":1304},{"t":"-co-ordinate values of","x":727,"y":1428}]},"mark":{"type":"text","font":"Liberation Serif","fontSize":53.4,"color":"#262626","align":"left","baseline":"alphabetic","angle":17.4},
"encoding":{"x":{"field":"x","type":"quantitative"},"y":{"field":"y","type":"quantitative"},"text":{"field":"t"}}},
{"data":{"values":[{"t":"Y","x":288,"y":1291},{"t":"Z","x":699,"y":1419},{"t":"p","x":1187,"y":1572}]},"mark":{"type":"text","font":"Liberation Serif","fontStyle":"italic","fontSize":53.4,"color":"#262626","align":"left","baseline":"alphabetic","angle":17.4},
"encoding":{"x":{"field":"x","type":"quantitative"},"y":{"field":"y","type":"quantitative"},"text":{"field":"t"}}},
{"data":{"values":[{"t":"T","x":1210,"y":1588}]},"mark":{"type":"text","font":"Liberation Serif","fontStyle":"italic","fontSize":37,"color":"#262626","align":"left","baseline":"alphabetic","angle":17.4},
"encoding":{"x":{"field":"x","type":"quantitative"},"y":{"field":"y","type":"quantitative"},"text":{"field":"t"}}},
{"data":{"values":[{"t":"X","x":1940,"y":1567},{"t":"Axis showing the","x":1991,"y":1558},{"t":"-co-ordinate values of","x":2398,"y":1486}]},"mark":{"type":"text","font":"Liberation Serif","fontSize":53,"color":"#262626","align":"left","baseline":"alphabetic","angle":350},
"encoding":{"x":{"field":"x","type":"quantitative"},"y":{"field":"y","type":"quantitative"},"text":{"field":"t"}}},
{"data":{"values":[{"t":"Y","x":2369,"y":1491},{"t":"p","x":2870,"y":1403}]},"mark":{"type":"text","font":"Liberation Serif","fontStyle":"italic","fontSize":53,"color":"#262626","align":"left","baseline":"alphabetic","angle":350},
"encoding":{"x":{"field":"x","type":"quantitative"},"y":{"field":"y","type":"quantitative"},"text":{"field":"t"}}},
{"data":{"values":[{"t":"T","x":2897,"y":1407}]},"mark":{"type":"text","font":"Liberation Serif","fontStyle":"italic","fontSize":37,"color":"#262626","align":"left","baseline":"alphabetic","angle":350},
"encoding":{"x":{"field":"x","type":"quantitative"},"y":{"field":"y","type":"quantitative"},"text":{"field":"t"}}}
]
}
